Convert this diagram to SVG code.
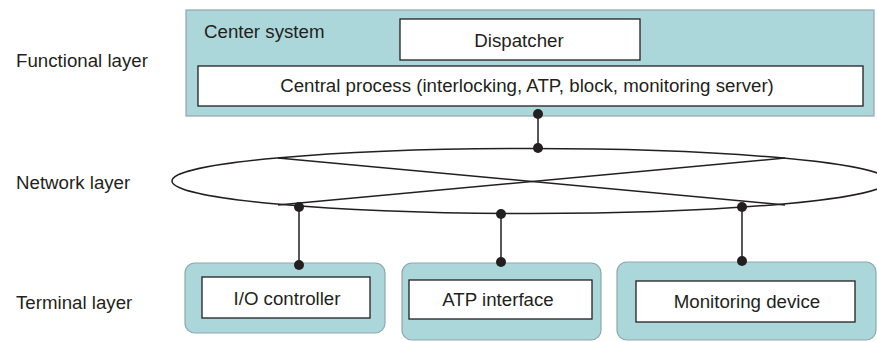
<svg xmlns="http://www.w3.org/2000/svg" width="877" height="342" viewBox="0 0 877 342">
<style>
text{font-family:"Liberation Sans",Arial,sans-serif;font-size:18.7px;fill:#231f20}
.mid{text-anchor:middle}
.panel{fill:#abd6da;stroke:#8fa7ab;stroke-width:1.2}
.box{fill:#ffffff;stroke:#231f20;stroke-width:1.3}
.ln{fill:none;stroke:#231f20;stroke-width:1.5}
.dot{fill:#231f20}
</style>
<rect width="877" height="342" fill="#ffffff"/>
<g id="layer-labels">
<text x="16" y="67">Functional layer</text>
<text x="16" y="189">Network layer</text>
<text x="16" y="309">Terminal layer</text>
</g>
<g id="center-system">
<rect class="panel" x="186" y="10" width="688" height="106"/>
<text x="204" y="38">Center system</text>
</g>
<g id="dispatcher">
<rect class="box" x="400" y="19" width="240" height="41"/>
<text class="mid" x="519" y="47">Dispatcher</text>
</g>
<g id="central-process">
<rect class="box" x="198" y="66" width="665" height="40"/>
<text class="mid" x="527" y="92">Central process (interlocking, ATP, block, monitoring server)</text>
</g>
<g id="network">
<ellipse class="ln" cx="530" cy="181" rx="358" ry="32.5"/>
<line class="ln" x1="278" y1="158" x2="785" y2="205" stroke-width="1.2"/>
<line class="ln" x1="278" y1="205" x2="785" y2="158" stroke-width="1.2"/>
</g>
<g id="io-controller">
<rect class="panel" x="185" y="263" width="200" height="70" rx="10"/>
<rect class="box" x="202" y="277" width="168" height="41"/>
<text class="mid" x="287" y="305">I/O controller</text>
</g>
<g id="atp-interface">
<rect class="panel" x="402" y="263" width="199" height="77" rx="10"/>
<rect class="box" x="409" y="280" width="183" height="39"/>
<text class="mid" x="498" y="306">ATP interface</text>
</g>
<g id="monitoring-device">
<rect class="panel" x="617" y="262" width="259" height="78" rx="10"/>
<rect class="box" x="636" y="281" width="219" height="41"/>
<text class="mid" x="747" y="308">Monitoring device</text>
</g>
<g id="connectors">
<line class="ln" x1="538" y1="114" x2="538" y2="148"/>
<circle class="dot" cx="538" cy="114" r="5"/>
<circle class="dot" cx="538" cy="148" r="5"/>
<line class="ln" x1="299" y1="207" x2="299" y2="265"/>
<circle class="dot" cx="299" cy="207" r="5"/>
<circle class="dot" cx="299" cy="265" r="5"/>
<line class="ln" x1="501" y1="214" x2="501" y2="262"/>
<circle class="dot" cx="501" cy="214" r="5"/>
<circle class="dot" cx="501" cy="262" r="5"/>
<line class="ln" x1="742" y1="207" x2="742" y2="261"/>
<circle class="dot" cx="742" cy="207" r="5"/>
<circle class="dot" cx="742" cy="261" r="5"/>
</g>
</svg>
